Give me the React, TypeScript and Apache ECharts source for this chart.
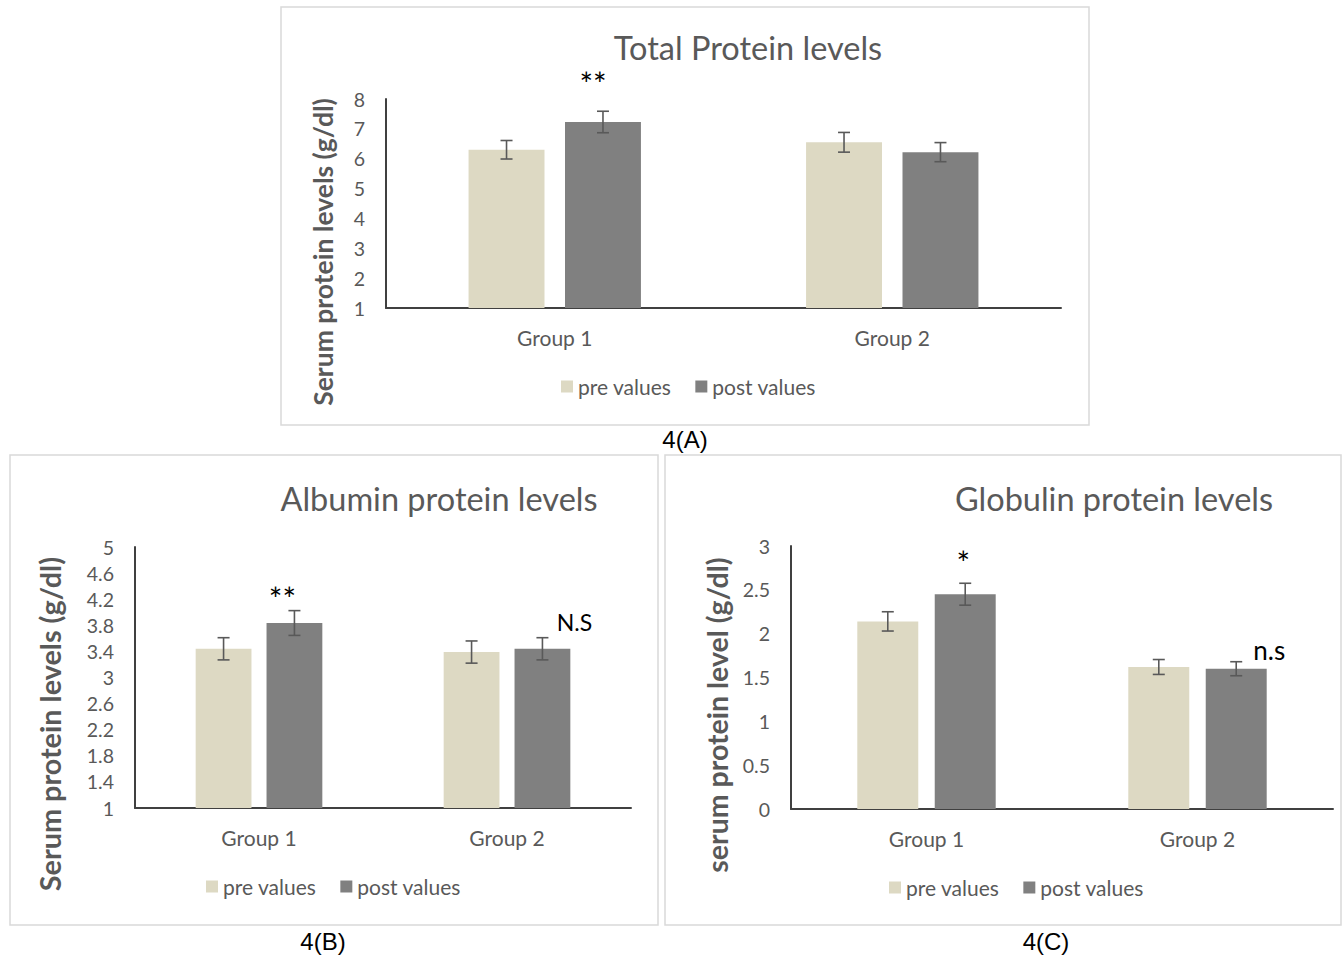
import React, { useEffect, useRef } from "react";
import * as echarts from "echarts";

// ---------------- data ----------------
const categories = ["Group 1", "Group 2"];
const seriesNames = ["pre values", "post values"];

// 4(A) Total protein (g/dl)
const totalPre = [6.3, 6.55];
const totalPreErr = [0.31, 0.33];
const totalPost = [7.23, 6.22];
const totalPostErr = [0.36, 0.32];
const totalAnnot = ["**", ""];

// 4(B) Albumin (g/dl)
const albPre = [3.44, 3.39];
const albPreErr = [0.17, 0.17];
const albPost = [3.835, 3.44];
const albPostErr = [0.19, 0.17];
const albAnnot = ["**", "N.S"];

// 4(C) Globulin (g/dl)
const gloPre = [2.14, 1.62];
const gloPreErr = [0.11, 0.085];
const gloPost = [2.45, 1.6];
const gloPostErr = [0.125, 0.08];
const gloAnnot = ["*", "n.s"];

const titles = ["Total Protein levels", "Albumin protein levels", "Globulin protein levels"];
const yNames = ["Serum protein levels (g/dl)", "Serum protein levels (g/dl)", "serum protein level (g/dl)"];
const captions = ["4(A)", "4(B)", "4(C)"];

// ---------------- style ----------------
const FONT = "Lato";
const GRAY = "#595959";
const PRE_COLOR = "#DDD9C3";
const POST_COLOR = "#808080";
const ERR_COLOR = "#595959";
const BAR_W = 0.225;
const BAR_GAP = 0.27;

const panels = [
  {
    grid: { left: 386, top: 99, width: 675, height: 209 },
    axis: { min: 1, max: 8, interval: 1 },
    title: { x: 748, y: 31, size: 32.5 },
    legend: { left: 561, top: 376 },
    yName: { x: 323, y: 252, size: 26.5 },
    border: { x: 281, y: 7, w: 808, h: 418 },
    caption: { x: 685, y: 439 },
    annotOffsets: [[-10, -28], [0, 0]],
  },
  {
    grid: { left: 135, top: 547, width: 496, height: 261 },
    axis: { min: 1, max: 5, interval: 0.4 },
    title: { x: 439, y: 482, size: 32.5 },
    legend: { left: 206, top: 876 },
    yName: { x: 50, y: 724, size: 28.8 },
    border: { x: 10, y: 455, w: 648, h: 470 },
    caption: { x: 323, y: 941 },
    annotOffsets: [[-12, -12], [32, -16]],
  },
  {
    grid: { left: 791, top: 546, width: 542, height: 263 },
    axis: { min: 0, max: 3, interval: 0.5 },
    title: { x: 1114, y: 482, size: 32.5 },
    legend: { left: 889, top: 877 },
    yName: { x: 717, y: 715, size: 28.5 },
    border: { x: 665, y: 455, w: 676, h: 470 },
    caption: { x: 1046, y: 941 },
    annotOffsets: [[-2, -21], [33, -12]],
  },
];

const chartData = [
  { pre: totalPre, preErr: totalPreErr, post: totalPost, postErr: totalPostErr, annot: totalAnnot },
  { pre: albPre, preErr: albPreErr, post: albPost, postErr: albPostErr, annot: albAnnot },
  { pre: gloPre, preErr: gloPreErr, post: gloPost, postErr: gloPostErr, annot: gloAnnot },
];

function errorSeries(idx: number, values: number[], errs: number[], side: number, annots: string[], offsets: number[][]) {
  return {
    type: "custom",
    xAxisIndex: idx,
    yAxisIndex: idx,
    silent: true,
    z: 10,
    data: values.map((v, i) => [i, v, errs[i]]),
    encode: { x: 0, y: 1 },
    renderItem: (params: any, api: any) => {
      const i = api.value(0);
      const v = api.value(1);
      const e = api.value(2);
      const catW = api.size([1, 0])[0];
      const bw = catW * BAR_W;
      const gap = bw * BAR_GAP;
      const off = (side * (bw + gap)) / 2;
      const top = api.coord([i, v + e]);
      const bot = api.coord([i, v - e]);
      const x = top[0] + off;
      const cap = 6;
      const ls = { stroke: ERR_COLOR, lineWidth: 1.6 };
      const children: any[] = [
        { type: "line", shape: { x1: x, y1: top[1], x2: x, y2: bot[1] }, style: ls },
        { type: "line", shape: { x1: x - cap, y1: top[1], x2: x + cap, y2: top[1] }, style: ls },
        { type: "line", shape: { x1: x - cap, y1: bot[1], x2: x + cap, y2: bot[1] }, style: ls },
      ];
      const a = annots[i];
      if (a) {
        const o = offsets[i];
        const isStar = a.indexOf("*") >= 0;
        children.push({
          type: "text",
          x: x + o[0],
          y: top[1] + o[1],
          style: {
            text: a,
            fill: "#000",
            fontFamily: FONT,
            fontSize: isStar ? 32 : a === "n.s" ? 26 : 23,
            align: "center",
            verticalAlign: "middle",
          },
        });
      }
      return { type: "group", children };
    },
  };
}

export default function App() {
  const ref = useRef<HTMLDivElement>(null);

  useEffect(() => {
    if (!ref.current) return;
    const chart = echarts.init(ref.current, undefined, { renderer: "svg" });

    const axisLine = { show: true, lineStyle: { color: "#404040", width: 2 } };

    const grid = panels.map((p) => ({ ...p.grid, containLabel: false }));
    const xAxis = panels.map((p, i) => ({
      type: "category",
      gridIndex: i,
      data: categories,
      axisLine,
      axisTick: { show: false },
      axisLabel: { color: GRAY, fontFamily: FONT, fontSize: 21, margin: 19 },
    }));
    const yAxis = panels.map((p, i) => ({
      type: "value",
      gridIndex: i,
      min: p.axis.min,
      max: p.axis.max,
      interval: p.axis.interval,
      axisLine,
      axisTick: { show: false },
      splitLine: { show: false },
      axisLabel: {
        color: GRAY,
        fontFamily: FONT,
        fontSize: 19.5,
        margin: 21,
        formatter: (v: number) => String(Math.round(v * 10) / 10),
      },
    }));

    const series: any[] = [];
    chartData.forEach((d, i) => {
      series.push({
        type: "bar",
        name: seriesNames[0],
        xAxisIndex: i,
        yAxisIndex: i,
        data: d.pre,
        barWidth: `${BAR_W * 100}%`,
        barGap: `${BAR_GAP * 100}%`,
        itemStyle: { color: PRE_COLOR },
        clip: true,
      });
      series.push({
        type: "bar",
        name: seriesNames[1],
        xAxisIndex: i,
        yAxisIndex: i,
        data: d.post,
        barWidth: `${BAR_W * 100}%`,
        barGap: `${BAR_GAP * 100}%`,
        itemStyle: { color: POST_COLOR },
        clip: true,
      });
      series.push(errorSeries(i, d.pre, d.preErr, -1, ["", ""], [[0, 0], [0, 0]]));
      series.push(errorSeries(i, d.post, d.postErr, 1, d.annot, panels[i].annotOffsets));
    });

    const title = panels.map((p, i) => ({
      text: titles[i],
      left: p.title.x,
      top: p.title.y,
      textAlign: "center",
      padding: 0,
      textStyle: { color: GRAY, fontFamily: FONT, fontSize: p.title.size, fontWeight: "normal" },
    }));

    const legend = panels.map((p) => ({
      data: seriesNames,
      left: p.legend.left,
      top: p.legend.top,
      icon: "rect",
      itemWidth: 12,
      itemHeight: 12,
      itemGap: 24,
      padding: 0,
      textStyle: { color: GRAY, fontFamily: FONT, fontSize: 21 },
      selectedMode: false,
    }));

    const graphic: any[] = [];
    panels.forEach((p, i) => {
      graphic.push({
        type: "rect",
        z: -10,
        shape: { x: p.border.x, y: p.border.y, width: p.border.w, height: p.border.h },
        style: { fill: "#fff", stroke: "#d9d9d9", lineWidth: 1.5 },
        silent: true,
      });
      graphic.push({
        type: "text",
        x: p.yName.x,
        y: p.yName.y,
        rotation: Math.PI / 2,
        style: {
          text: yNames[i],
          fill: GRAY,
          fontFamily: FONT,
          fontWeight: "bold",
          fontSize: p.yName.size,
          align: "center",
          verticalAlign: "middle",
        },
        silent: true,
      });
      graphic.push({
        type: "text",
        x: p.caption.x,
        y: p.caption.y,
        style: {
          text: captions[i],
          fill: "#000",
          fontFamily: "Liberation Sans",
          fontSize: 24,
          align: "center",
          verticalAlign: "middle",
        },
        silent: true,
      });
    });

    chart.setOption({
      animation: false,
      backgroundColor: "#fff",
      title,
      legend,
      grid,
      xAxis,
      yAxis,
      series,
      graphic,
    });

    return () => chart.dispose();
  }, []);

  return (
    <div
      ref={ref}
      style={{ position: "absolute", left: 0, top: 0, width: 1342, height: 957 }}
    />
  );
}
